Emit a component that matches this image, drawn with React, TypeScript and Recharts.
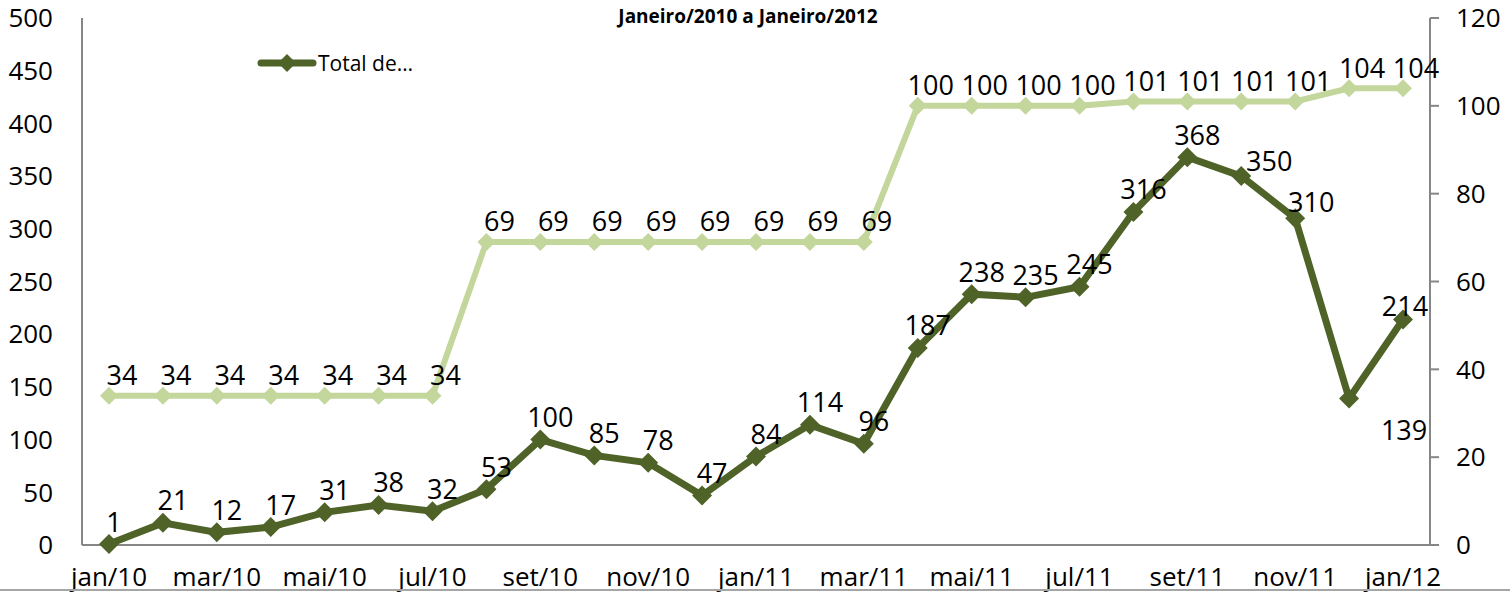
import React from 'react';
import { LineChart, Line, XAxis, YAxis, LabelList } from 'recharts';

const months = ['jan/10','fev/10','mar/10','abr/10','mai/10','jun/10','jul/10','ago/10','set/10','out/10','nov/10','dez/10','jan/11','fev/11','mar/11','abr/11','mai/11','jun/11','jul/11','ago/11','set/11','out/11','nov/11','dez/11','jan/12'];
const totalValues = [1,21,12,17,31,38,32,53,100,85,78,47,84,114,96,187,238,235,245,316,368,350,310,139,214];
const secondValues = [34,34,34,34,34,34,34,69,69,69,69,69,69,69,69,100,100,100,100,101,101,101,101,104,104];
const leftTicks = [0,50,100,150,200,250,300,350,400,450,500];
const rightTicks = [0,20,40,60,80,100,120];
const titleText = 'Janeiro/2010 a Janeiro/2012';
const totalName = 'Total de…';
const secondName = 'Nº de…';

const data = months.map((m, i) => ({ month: m, total: totalValues[i], second: secondValues[i] }));

const DARK = '#4F6228';
const LIGHT = '#C3D69B';
const AXIS = '#868686';
const FONT = '"Open Sans", "Liberation Sans", sans-serif';

const makeDiamond = (color: string, r: number) => (props: any) => {
  const { cx, cy, index } = props;
  if (cx == null || cy == null) return <g key={`d-${index}`} />;
  return (
    <polygon
      key={`d-${index}`}
      points={`${cx},${cy - r} ${cx + r},${cy} ${cx},${cy + r} ${cx - r},${cy}`}
      fill={color}
    />
  );
};

const darkLabel = (props: any) => {
  const { x, y, value, index } = props;
  let dx = 10;
  let dy = -23;
  if (index === 23) { dx = 55; dy = 31; }
  else if (index === 21) { dx = 28; dy = -16; }
  else if (index === 22) { dx = 16; dy = -17; }
  else if (index === 24) { dx = 2; dy = -14; }
  else if (index === 0) { dx = 5; dy = -22; }
  return (
    <text x={x + dx} y={y + dy} textAnchor="middle" dominantBaseline="central" fontSize={27} fill="#000" fontFamily={FONT}>
      {value}
    </text>
  );
};

const lightLabel = (props: any) => {
  const { x, y, value } = props;
  return (
    <text x={x + 13} y={y - 21} textAnchor="middle" dominantBaseline="central" fontSize={27} fill="#000" fontFamily={FONT}>
      {value}
    </text>
  );
};

export default function App() {
  return (
    <div style={{ position: 'absolute', left: 0, top: 0, width: 1510, height: 594, overflow: 'hidden', background: '#fff' }}>
      <LineChart
        width={1510}
        height={594}
        data={data}
        margin={{ top: 18, right: 0, bottom: 0, left: 0 }}
        style={{ fontFamily: FONT }}
      >
        <XAxis
          dataKey="month"
          interval={1}
          padding={{ left: 27, right: 27 }}
          axisLine={{ stroke: AXIS, strokeWidth: 2 }}
          tickLine={false}
          tickSize={0}
          tickMargin={23}
          height={49}
          tick={{ fontSize: 26, fill: '#000' }}
        />
        <YAxis
          yAxisId="left"
          domain={[0, 500]}
          ticks={leftTicks}
          width={82}
          axisLine={{ stroke: AXIS, strokeWidth: 2 }}
          tickLine={false}
          tickSize={0}
          tickMargin={29}
          tick={{ fontSize: 26, fill: '#000' }}
        />
        <YAxis
          yAxisId="right"
          orientation="right"
          domain={[0, 120]}
          ticks={rightTicks}
          width={80}
          axisLine={{ stroke: AXIS, strokeWidth: 2 }}
          tickLine={{ stroke: AXIS, strokeWidth: 2 }}
          tickSize={9}
          tickMargin={17}
          tick={{ fontSize: 26, fill: '#000' }}
        />
        <Line
          yAxisId="right"
          dataKey="second"
          name={secondName}
          stroke={LIGHT}
          strokeWidth={6}
          dot={makeDiamond(LIGHT, 9)}
          activeDot={false}
          legendType="none"
          isAnimationActive={false}
        >
          <LabelList dataKey="second" content={lightLabel} />
        </Line>
        <Line
          yAxisId="left"
          dataKey="total"
          name={totalName}
          stroke={DARK}
          strokeWidth={7}
          dot={makeDiamond(DARK, 10)}
          activeDot={false}
          isAnimationActive={false}
        >
          <LabelList dataKey="total" content={darkLabel} />
        </Line>
      </LineChart>
      <div style={{ position: 'absolute', left: 0, width: 1510, top: 4, textAlign: 'center', fontFamily: FONT, fontWeight: 700, fontSize: 19, lineHeight: '24px', color: '#000' }}>
        <span style={{ position: 'relative', left: -7 }}>{titleText}</span>
      </div>
      <div style={{ position: 'absolute', left: 256, top: 49, display: 'flex', alignItems: 'center', fontFamily: FONT, fontSize: 21, color: '#000' }}>
        <svg width={62} height={22}>
          <line x1={5} y1={11} x2={57} y2={11} stroke={DARK} strokeWidth={7} strokeLinecap="round" />
          <polygon points="31,2 40,11 31,20 22,11" fill={DARK} />
        </svg>
        <span>{totalName}</span>
      </div>
      <div style={{ position: 'absolute', left: 0, top: 589, width: 1510, height: 2, background: '#A6A6A6' }} />
    </div>
  );
}
